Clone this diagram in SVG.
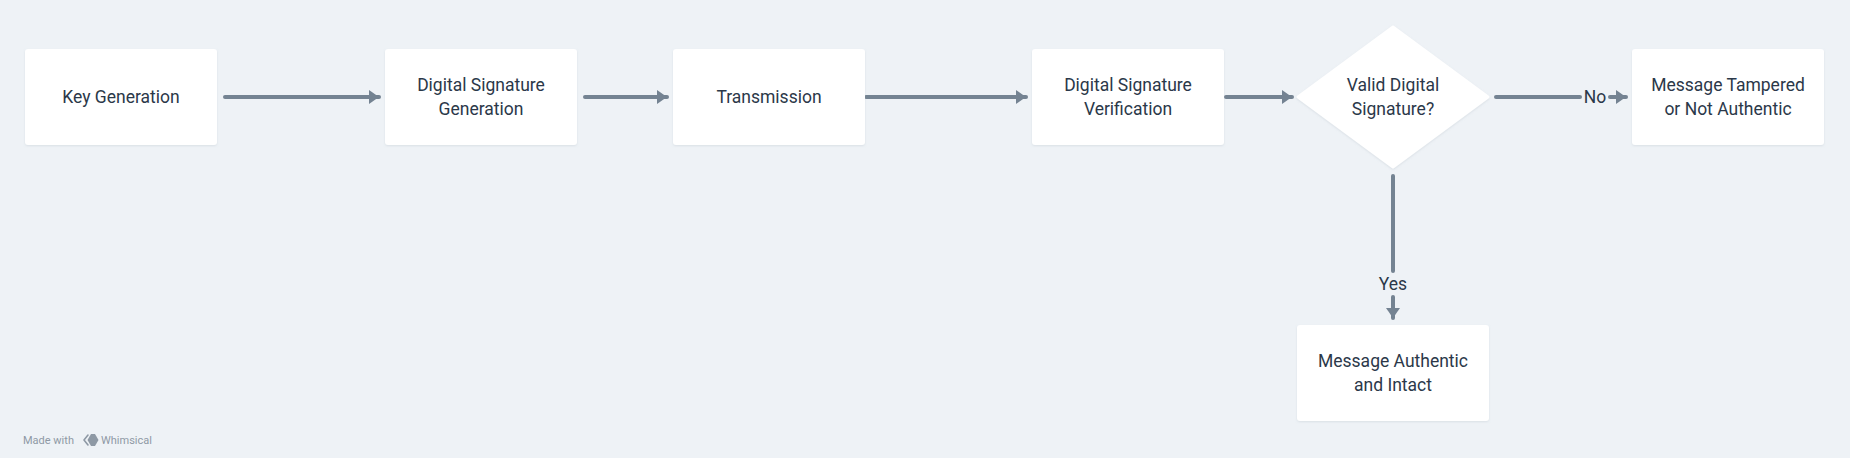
<svg xmlns="http://www.w3.org/2000/svg" width="1850" height="458" viewBox="0 0 1850 458">
<style>
.node{fill:#ffffff;filter:url(#sh);}
.t{font-family:Roboto,"Liberation Sans",sans-serif;font-size:17.5px;fill:#2b3849;text-anchor:middle;dominant-baseline:central;}
.c{stroke:#748392;stroke-width:4;stroke-linecap:round;fill:none;}
.lbl{font-family:Roboto,"Liberation Sans",sans-serif;font-size:17.5px;fill:#2b3849;text-anchor:middle;dominant-baseline:central;}
.ft{font-family:Roboto,"Liberation Sans",sans-serif;font-size:11px;fill:#8e99a5;dominant-baseline:central;}
</style>
<defs>
<filter id="sh" x="-10%" y="-10%" width="120%" height="130%">
<feDropShadow dx="0" dy="1" stdDeviation="1.2" flood-color="#9aa7b4" flood-opacity="0.25"/>
</filter>
<marker id="ah" markerWidth="10" markerHeight="14" refX="10" refY="7" orient="auto" markerUnits="userSpaceOnUse">
<path d="M0,0 L10,7 L0,14 Z" fill="#748392"/>
</marker>
</defs>
<rect width="1850" height="458" fill="#eef2f6"/>
<g id="connectors">
<line class="c" x1="225" y1="97" x2="379" y2="97" marker-end="url(#ah)"/>
<line class="c" x1="585" y1="97" x2="667" y2="97" marker-end="url(#ah)"/>
<line class="c" x1="866" y1="97" x2="1026" y2="97" marker-end="url(#ah)"/>
<line class="c" x1="1226" y1="97" x2="1292" y2="97" marker-end="url(#ah)"/>
<line class="c" x1="1496" y1="97" x2="1580" y2="97"/>
<text class="lbl" x="1595" y="97">No</text>
<line class="c" x1="1610" y1="97" x2="1626" y2="97" marker-end="url(#ah)"/>
<line class="c" x1="1393" y1="176" x2="1393" y2="271"/>
<text class="lbl" x="1393" y="284">Yes</text>
<line class="c" x1="1393" y1="297" x2="1393" y2="318" marker-end="url(#ah)"/>
</g>
<g id="key-generation">
<rect class="node" x="25" y="49" width="192" height="96" rx="3"/>
<text class="t" x="121" y="97">Key Generation</text>
</g>
<g id="digital-signature-generation">
<rect class="node" x="385" y="49" width="192" height="96" rx="3"/>
<text class="t" x="481" y="85">Digital Signature</text>
<text class="t" x="481" y="109">Generation</text>
</g>
<g id="transmission">
<rect class="node" x="673" y="49" width="192" height="96" rx="3"/>
<text class="t" x="769" y="97">Transmission</text>
</g>
<g id="digital-signature-verification">
<rect class="node" x="1032" y="49" width="192" height="96" rx="3"/>
<text class="t" x="1128" y="85">Digital Signature</text>
<text class="t" x="1128" y="109">Verification</text>
</g>
<g id="valid-digital-signature">
<path class="node" d="M1393,27 L1488,97 L1393,167 L1298,97 Z" stroke="#ffffff" stroke-width="3" stroke-linejoin="round"/>
<text class="t" x="1393" y="85">Valid Digital</text>
<text class="t" x="1393" y="109">Signature?</text>
</g>
<g id="message-tampered">
<rect class="node" x="1632" y="49" width="192" height="96" rx="3"/>
<text class="t" x="1728" y="85">Message Tampered</text>
<text class="t" x="1728" y="109">or Not Authentic</text>
</g>
<g id="message-authentic">
<rect class="node" x="1297" y="325" width="192" height="96" rx="3"/>
<text class="t" x="1393" y="361">Message Authentic</text>
<text class="t" x="1393" y="385">and Intact</text>
</g>
<g id="footer">
<text class="ft" x="23" y="440">Made with</text>
<path d="M88,435 L84,440 L88,445" fill="none" stroke="#8e99a5" stroke-width="1.6" stroke-linejoin="round" stroke-linecap="round"/>
<path d="M91,434 L95,434 L98.5,440 L95,446 L91,446 L87.5,440 Z" fill="#8e99a5"/>
<text class="ft" x="101" y="440">Whimsical</text>
</g>
</svg>
